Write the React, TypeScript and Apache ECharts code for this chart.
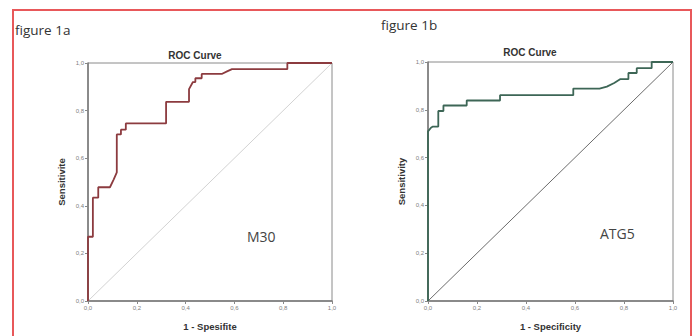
import React, { useEffect, useRef } from "react";
import * as echarts from "echarts";

// Figure 1a (M30) ROC curve points: 1 - specificity, sensitivity
const m30Fpr = [0, 0, 0.02, 0.02, 0.042, 0.042, 0.09, 0.105, 0.118, 0.118, 0.135, 0.135, 0.155, 0.155, 0.32, 0.32, 0.414, 0.414, 0.43, 0.44, 0.44, 0.466, 0.466, 0.548, 0.57, 0.59, 0.817, 0.817, 1.0];
const m30Tpr = [0, 0.27, 0.27, 0.434, 0.434, 0.478, 0.478, 0.51, 0.54, 0.70, 0.70, 0.72, 0.72, 0.746, 0.746, 0.837, 0.837, 0.89, 0.92, 0.92, 0.936, 0.936, 0.954, 0.954, 0.965, 0.974, 0.974, 1.0, 1.0];

// Figure 1b (ATG5) ROC curve points
const atg5Fpr = [0, 0, 0.012, 0.02, 0.042, 0.042, 0.063, 0.063, 0.158, 0.158, 0.294, 0.294, 0.593, 0.593, 0.70, 0.73, 0.76, 0.784, 0.818, 0.818, 0.852, 0.852, 0.913, 0.913, 1.0];
const atg5Tpr = [0, 0.71, 0.725, 0.73, 0.73, 0.795, 0.795, 0.818, 0.818, 0.839, 0.839, 0.861, 0.861, 0.889, 0.889, 0.897, 0.912, 0.928, 0.928, 0.954, 0.954, 0.974, 0.974, 1.0, 1.0];

const refLine = [0, 1];
const axisMin = 0;
const axisMax = 1;
const axisStep = 0.2;

const figureLabels = ["figure 1a", "figure 1b"];
const chartTitle = "ROC Curve";
const markerNames = ["M30", "ATG5"];
const xNames = ["1 - Spesifite", "1 - Specificity"];
const yNames = ["Sensitivite", "Sensitivity"];

const zip = (a: number[], b: number[]) => a.map((v, i) => [v, b[i]]);
const fmt = (v: number) => v.toFixed(1).replace(".", ",");

export default function App() {
  const ref = useRef<HTMLDivElement>(null);
  useEffect(() => {
    if (!ref.current) return;
    const chart = echarts.init(ref.current, null, { renderer: "svg" });
    const axisCommon = (name: string, gap: number) => ({
      type: "value",
      min: axisMin,
      max: axisMax,
      interval: axisStep,
      name,
      nameLocation: "middle",
      nameGap: gap,
      nameTextStyle: { fontFamily: "Liberation Sans", fontWeight: "bold", fontSize: 9.5, color: "#333" },
      axisLine: { show: true, lineStyle: { color: "#777", width: 1.5 } },
      axisTick: { show: true, length: 3, lineStyle: { color: "#888" } },
      axisLabel: { formatter: fmt, fontSize: 6, color: "#808080", fontFamily: "Liberation Sans", margin: 4 },
      splitLine: { show: false },
    });
    const grids = [
      { left: 88, top: 63, width: 244, height: 243 },
      { left: 428, top: 62, width: 245, height: 246 },
    ];
    chart.setOption({
      animation: false,
      backgroundColor: "#ffffff",
      grid: grids.map((g) => ({ ...g, show: true, borderColor: "#8a8a8a", borderWidth: 1, backgroundColor: "transparent" })),
      xAxis: [0, 1].map((i) => ({ ...axisCommon(xNames[i], 20), gridIndex: i })),
      yAxis: [0, 1].map((i) => ({ ...axisCommon(yNames[i], 22), gridIndex: i })),
      series: [
        {
          type: "line", xAxisIndex: 0, yAxisIndex: 0, data: zip(refLine, refLine),
          showSymbol: false, lineStyle: { color: "#d2d2d2", width: 1 }, silent: true,
        },
        {
          type: "line", xAxisIndex: 0, yAxisIndex: 0, data: zip(m30Fpr, m30Tpr),
          showSymbol: false, lineStyle: { color: "#8c3b3f", width: 1.8 }, silent: true,
        },
        {
          type: "line", xAxisIndex: 1, yAxisIndex: 1, data: zip(refLine, refLine),
          showSymbol: false, lineStyle: { color: "#5a5a5a", width: 0.9 }, silent: true,
        },
        {
          type: "line", xAxisIndex: 1, yAxisIndex: 1, data: zip(atg5Fpr, atg5Tpr),
          showSymbol: false, lineStyle: { color: "#3d6656", width: 1.8 }, silent: true,
        },
      ],
      graphic: [
        { type: "rect", shape: { x: 13, y: 10, width: 678, height: 340 }, style: { fill: "none", stroke: "#e8585a", lineWidth: 2 }, silent: true },
        { type: "text", x: 15, y: 30, style: { text: figureLabels[0], fontFamily: "Open Sans", fontSize: 13.5, fill: "#333", textVerticalAlign: "middle" } },
        { type: "text", x: 381, y: 25, style: { text: figureLabels[1], fontFamily: "Open Sans", fontSize: 13.5, fill: "#333", textVerticalAlign: "middle" } },
        { type: "text", x: 195, y: 55, style: { text: chartTitle, fontFamily: "Liberation Sans", fontWeight: "bold", fontSize: 10, fill: "#333", textAlign: "center", textVerticalAlign: "middle" } },
        { type: "text", x: 530, y: 52, style: { text: chartTitle, fontFamily: "Liberation Sans", fontWeight: "bold", fontSize: 10, fill: "#333", textAlign: "center", textVerticalAlign: "middle" } },
        { type: "text", x: 247, y: 236, style: { text: markerNames[0], fontFamily: "Open Sans", fontSize: 14, fill: "#444", textVerticalAlign: "middle" } },
        { type: "text", x: 600, y: 233, style: { text: markerNames[1], fontFamily: "Open Sans", fontSize: 14, fill: "#444", textVerticalAlign: "middle" } },
      ],
    });
    return () => chart.dispose();
  }, []);
  return <div ref={ref} style={{ position: "fixed", left: 0, top: 0, width: 696, height: 336 }} />;
}
